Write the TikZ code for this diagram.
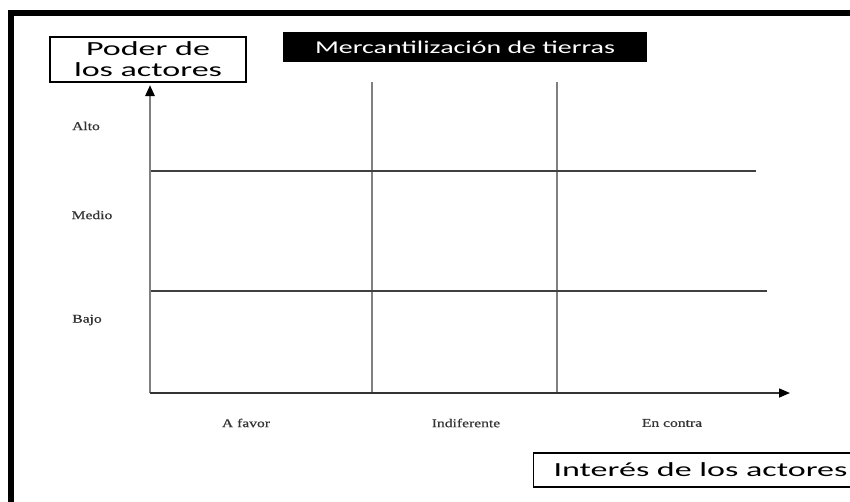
\documentclass[tikz,border=0pt]{standalone}
\usepackage{fontspec}
\newfontfamily\calA[FakeStretch=1.7]{Carlito}
\newfontfamily\calT[FakeStretch=1.55]{Carlito}
\newfontfamily\tms[FakeStretch=1.3,FakeBold=0.6]{Liberation Serif}
\usetikzlibrary{arrows.meta}
\begin{document}
\begin{tikzpicture}[x=1pt,y=-1pt,
  frame/.style={line width=6pt,black},
  axis/.style={-{Triangle[length=11pt,width=9pt,black]},line width=1.5pt,black!80},
  yaxis/.style={-{Triangle[length=11pt,width=9pt,black]},line width=2.6pt,black!50},
  vline/.style={line width=2.6pt,black!50},
  hline/.style={line width=1.5pt,black!75},
  lbl/.style={font=\tms\fontsize{12}{14}\selectfont,text=black!80,inner sep=0pt},
  bigbox/.style={draw,line width=1.2pt,font=\calA\fontsize{20}{22}\selectfont,align=center,inner sep=0pt}
]
\useasboundingbox (0,0) rectangle (850,501);
\clip (0,0) rectangle (850,501);
\fill[white] (0,0) rectangle (850,501);
% frame
\coordinate (tl) at (10.5,13);
\coordinate (tr) at (851,13);
\coordinate (bl) at (10.5,502);
\draw[frame] (tr) -- (tl) -- (bl);
% grid coordinates
\coordinate (O) at (150,393);
\coordinate (ytip) at (150,85);
\coordinate (xtip) at (790,393);
\coordinate (v1t) at (372,82);
\coordinate (v1b) at (372,393);
\coordinate (v2t) at (557,82);
\coordinate (v2b) at (557,393);
\coordinate (h1l) at (150,171);
\coordinate (h1r) at (756,171);
\coordinate (h2l) at (150,291);
\coordinate (h2r) at (767,291);
\draw[vline] (v1t) -- (v1b);
\draw[vline] (v2t) -- (v2b);
\draw[hline] (h1l) -- (h1r);
\draw[hline] (h2l) -- (h2r);
\draw[yaxis] (O) -- (ytip);
\draw[axis] (O) -- (xtip);
% boxes
\node[bigbox,minimum width=196pt,minimum height=45pt] (poder) at (148,59.5) {Poder de\\[-1pt]los actores};
\node[fill=black,minimum width=364pt,minimum height=30pt,inner sep=0pt,text=white,font=\calT\fontsize{18}{20}\selectfont] (titulo) at (465,47) {Mercantilización de tierras};
\node[bigbox,anchor=west,minimum height=34pt,inner xsep=20pt] (interes) at (533,470) {Interés de los actores};
% labels
\node[lbl] (alto) at (86,126) {Alto};
\node[lbl] (medio) at (92,215) {Medio};
\node[lbl] (bajo) at (87,320) {Bajo};
\node[lbl] (afavor) at (246,423) {A favor};
\node[lbl] (indif) at (466,423) {Indiferente};
\node[lbl] (encontra) at (672,423) {En contra};
\end{tikzpicture}
\end{document}
